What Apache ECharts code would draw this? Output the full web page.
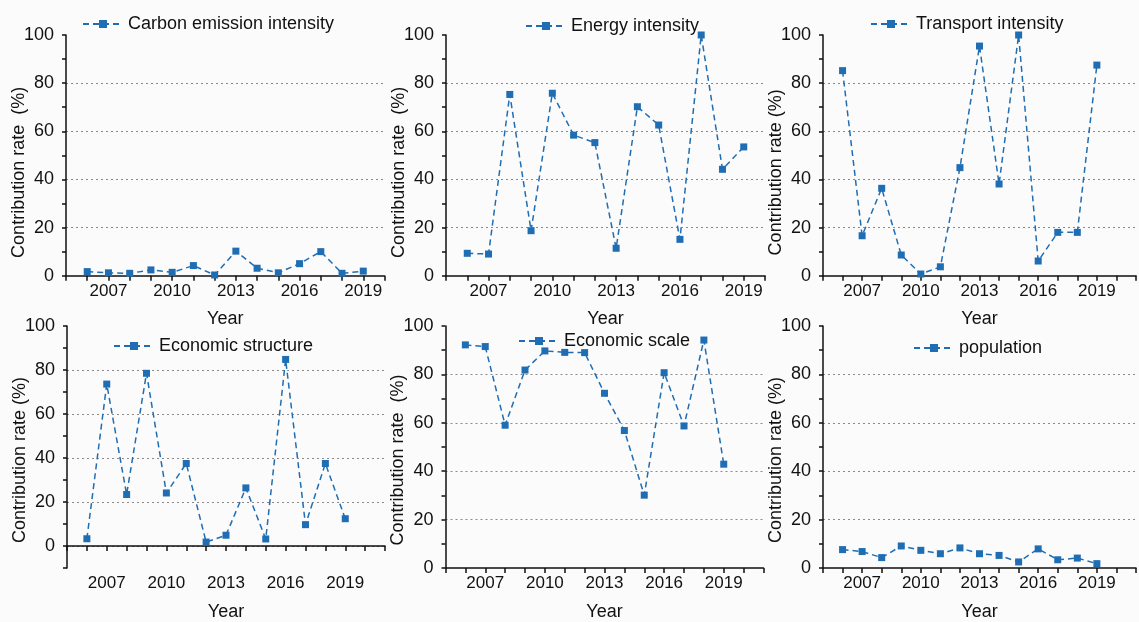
<!DOCTYPE html>
<html>
<head>
<meta charset="utf-8">
<title>Contribution rate</title>
<script src="https://cdn.jsdelivr.net/npm/echarts@6/dist/echarts.min.js"></script>
<style>
html,body{margin:0;padding:0;background:#fbfbfb;}
#main{width:1139px;height:622px;}
</style>
</head>
<body>
<div id="main"></div>
<script>
// data
var years = [2006,2007,2008,2009,2010,2011,2012,2013,2014,2015,2016,2017,2018,2019];
var yearTicks = [2007,2010,2013,2016,2019];
var yTicks = [0,20,40,60,80,100];

var carbonIntensity = [1.7,1.2,1.0,2.4,1.4,4.2,0.3,10.2,3.1,1.2,5.0,10.0,1.0,1.9];
var energyIntensity = [9.3,9.0,75.3,18.7,75.8,58.4,55.3,11.4,70.2,62.6,15.1,100,44.2,53.5];
var transportIntensity = [85.2,16.6,36.3,8.6,0.7,3.7,44.9,95.4,38.1,100,6.1,18.0,18.0,87.5];
var economicStructure = [3.3,73.6,23.4,78.5,24.1,37.5,1.8,4.9,26.4,3.2,84.8,9.7,37.5,12.4];
var economicScale = [92.2,91.5,59.0,81.8,89.7,89.1,89.0,72.2,56.8,30.1,80.7,58.7,94.2,42.9];
var population = [7.6,6.8,4.3,9.1,7.3,5.9,8.3,5.9,5.2,2.5,7.9,3.4,4.1,1.8];

var seriesNames = ['Carbon emission intensity','Energy intensity','Transport intensity',
                   'Economic structure','Economic scale','population'];
var seriesValues = [carbonIntensity,energyIntensity,transportIntensity,
                    economicStructure,economicScale,population];
var yNames = ['Contribution rate  (%)','Contribution rate  (%)','Contribution rate (%)',
              'Contribution rate (%)','Contribution rate  (%)','Contribution rate (%)'];

// layout of the six panels
var grids = [
  {left:66,  top:35,  width:318.5, height:240.7},
  {left:446, top:35,  width:319,   height:240.7},
  {left:823, top:35,  width:318,   height:240.7},
  {left:67,  top:326, width:318,   height:242},
  {left:445.5, top:326, width:318, height:242},
  {left:823, top:326, width:318,   height:242}
];
var xMax = [2020,2020,2021,2021,2021,2021];
var yMin = [0,0,0,-10,0,0];
var legendPos = [[77,10],[520,12],[865,10],[108,332],[513,327],[908,334]];
var yNamePad = [34,34,34,26,26,26];

var blue = '#1f6db3';
var font = '"Liberation Sans", Arial, sans-serif';
var gridGrey = '#8a8a8a';

function splitColors(min) {
  var cols = [];
  for (var v = min; v <= 100; v += 10) {
    cols.push(v > 0 && v < 100 && v % 20 === 0 ? gridGrey : 'rgba(0,0,0,0)');
  }
  if (min < 0) cols[1] = gridGrey;
  return cols;
}

var option = {
  backgroundColor: '#fbfbfb',
  textStyle: {fontFamily: font},
  grid: [], xAxis: [], yAxis: [], series: [], legend: []
};

for (var i = 0; i < 6; i++) {
  option.grid.push(grids[i]);
  option.xAxis.push({
    type: 'value', gridIndex: i, min: 2005, max: xMax[i], interval: 1,
    name: 'Year', nameLocation: 'middle', nameGap: i < 3 ? 34 : 35, nameMoveOverlap: false,
    nameTextStyle: {fontSize: 18, color: '#111', fontFamily: font},
    axisLine: {lineStyle: {color: '#111', width: 1.5}},
    axisTick: {inside: false, length: 5, lineStyle: {color: '#111', width: 1.5}},
    axisLabel: {
      fontSize: 17, color: '#111', margin: 7, fontFamily: font,
      formatter: function (v) { return yearTicks.indexOf(v) >= 0 ? String(v) : ''; }
    },
    splitLine: {show: false}
  });
  option.yAxis.push({
    type: 'value', gridIndex: i, min: yMin[i], max: 100, interval: 10,
    name: yNames[i], nameLocation: 'middle', nameGap: 38, nameMoveOverlap: false,
    nameTextStyle: {fontSize: 18, color: '#111', fontFamily: font, padding: [0, yNamePad[i], 0, 0]},
    axisLine: {show: true, onZero: false, lineStyle: {color: '#111', width: 1.5}},
    axisTick: {show: true, length: 4, lineStyle: {color: '#111', width: 1.5}},
    axisLabel: {
      fontSize: 18, color: '#111', margin: 12, fontFamily: font,
      formatter: function (v) { return yTicks.indexOf(v) >= 0 ? String(v) : ''; }
    },
    splitLine: {show: true, lineStyle: {color: splitColors(yMin[i]), type: [2, 3], width: 1}}
  });
  option.series.push({
    name: seriesNames[i], type: 'line', xAxisIndex: i, yAxisIndex: i,
    data: years.map(function (y, k) { return [y, seriesValues[i][k]]; }),
    symbol: 'rect', symbolSize: 7, clip: false,
    itemStyle: {color: blue},
    lineStyle: {color: blue, width: 1.5, type: [6, 4]}
  });
  option.legend.push({
    data: [seriesNames[i]], left: legendPos[i][0], top: legendPos[i][1],
    itemWidth: 40, itemHeight: 10, itemGap: 5,
    textStyle: {fontSize: 18, color: '#111', fontFamily: font, lineHeight: 18}
  });
}

var myChart = echarts.init(document.getElementById('main'));
myChart.setOption(option);
</script>
</body>
</html>
